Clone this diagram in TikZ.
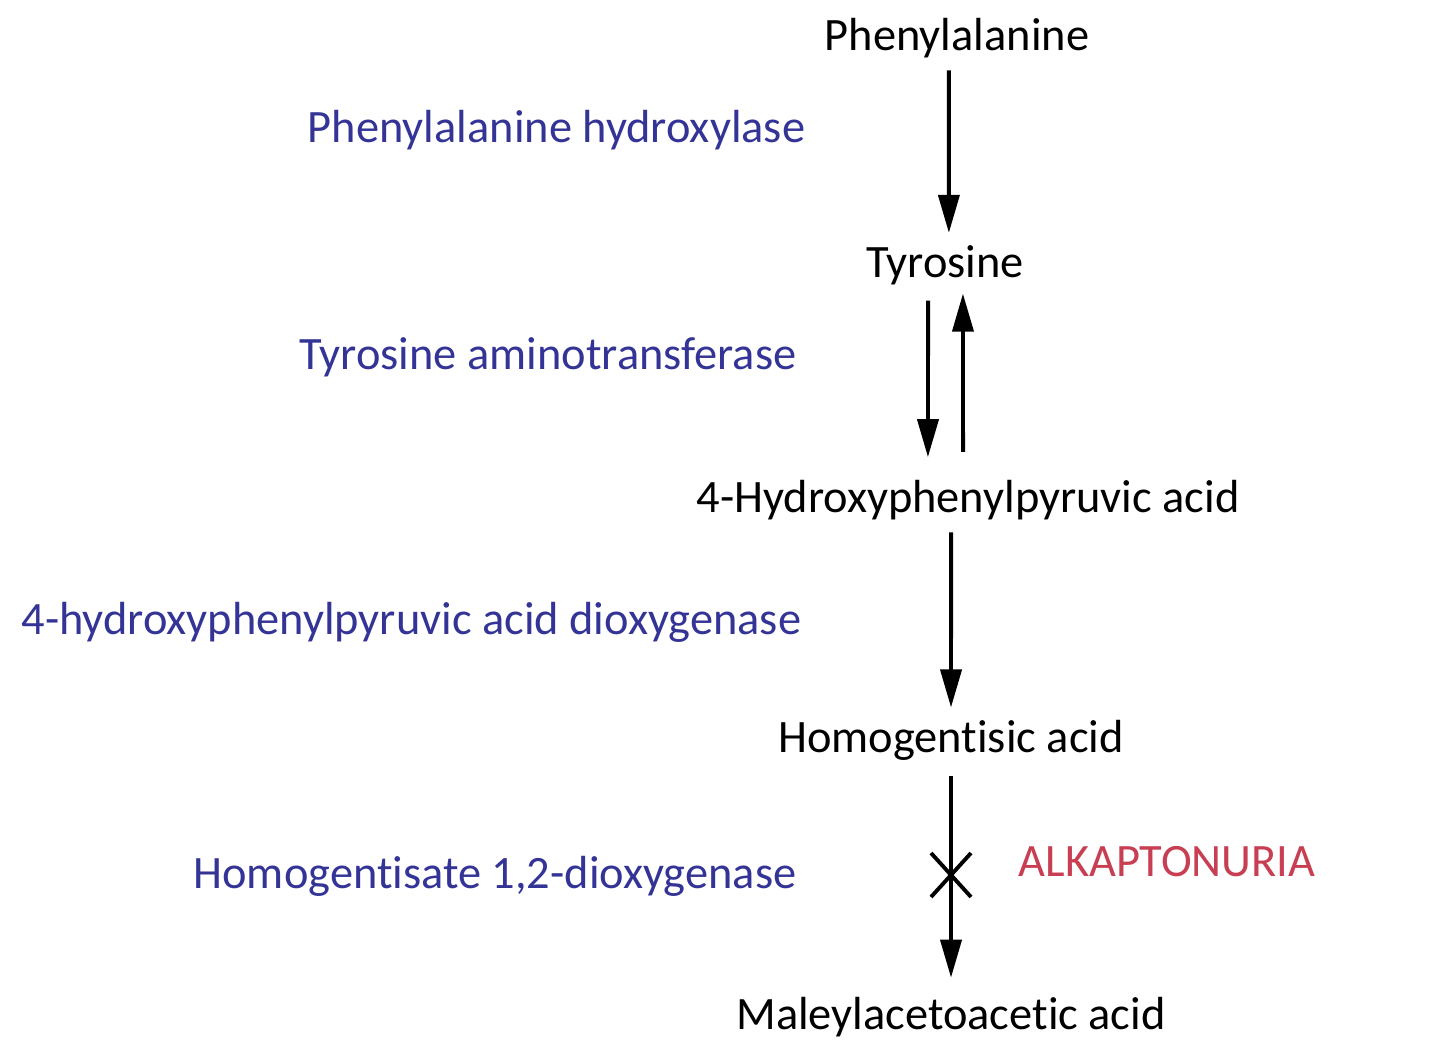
\documentclass[tikz,border=0pt]{standalone}
\usepackage{fontspec}
\setmainfont{Carlito}[Ligatures=NoCommon]
\usetikzlibrary{arrows.meta}
\definecolor{enzblue}{RGB}{52,52,150}
\definecolor{diseasered}{RGB}{200,62,82}

\begin{document}
\begin{tikzpicture}[x=0.01cm,y=-0.01cm,
  every node/.style={font=\fontsize{13.2}{16}\selectfont},
  arr/.style={line width=1.1pt,-{Triangle[length=0.38cm,width=0.21cm]}},
  enzyme/.style={text=enzblue,anchor=east,inner xsep=0pt},
  disease/.style={text=diseasered,anchor=west,inner xsep=0pt}]
\useasboundingbox (0,0) rectangle (1440,1046);

\node (phe) at (957,38) {Phenylalanine};
\node (tyr) at (945,265) {Tyrosine};
\node (hppa) at (968,500) {4-Hydroxyphenylpyruvic acid};
\node (hga) at (951,740) {Homogentisic acid};
\node (maa) at (951,1017) {Maleylacetoacetic acid};

\node[enzyme] (pah) at (806,130) {Phenylalanine hydroxylase};
\node[enzyme] (tat) at (797,357) {Tyrosine aminotransferase};
\node[enzyme] (hppd) at (802,622) {4-hydroxyphenylpyruvic acid dioxygenase};
\node[enzyme] (hgd) at (797,876) {Homogentisate 1,2-dioxygenase};
\node[disease] (alk) at (1018,862) {ALKAPTONURIA};

\draw[arr] ([xshift=-2.3pt]phe.south) -- ([xshift=1.1pt]tyr.north);
\draw[arr,shorten <=1pt,shorten >=3pt] ([xshift=-4.8pt]tyr.south) -- ([xshift=-11.4pt]hppa.north);
\draw[arr,shorten <=4.5pt,shorten >=-1pt] ([xshift=-1.4pt]hppa.north) -- ([xshift=5.1pt]tyr.south);
\draw[arr] ([xshift=-4.8pt]hppa.south) -- (hga.north);
\draw[arr,shorten <=1pt,shorten >=2pt] (hga.south) -- (maa.north);

% blocked step
\coordinate (block) at (951,875);
\draw[line width=1.1pt] (block) ++(-20,-22) -- ++(40,44) (block) ++(20,-22) -- ++(-40,44);
\end{tikzpicture}
\end{document}
